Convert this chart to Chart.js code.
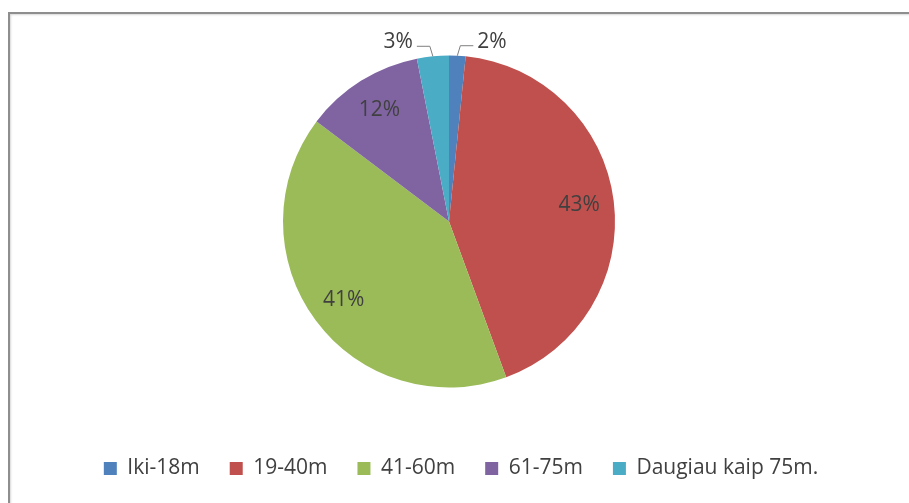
<!DOCTYPE html>
<html>
<head>
<meta charset="utf-8">
<script src="https://cdn.jsdelivr.net/npm/chart.js@4.4.0/dist/chart.umd.min.js"></script>
<style>
    html, body { margin: 0; padding: 0; background: #fff; }
    #frame {
        position: absolute; left: 8px; top: 12px; width: 920px; height: 510px;
        border-left: 2px solid #8e8e8e; border-top: 2px solid #8e8e8e;
        box-shadow: inset 1px 1px 2px #d8d8d8;
    }
    #wrap { position: absolute; left: 0; top: 0; width: 909px; height: 503px; }
</style>
</head>
<body>
<div id="frame"></div>
<div id="wrap"><canvas id="ageChart"></canvas></div>
<script>
// age groups and their share of respondents
const ageGroups = ['Iki-18m', '19-40m', '41-60m', '61-75m', 'Daugiau kaip 75m.'];
const shares = [1.6, 42.8, 40.9, 11.6, 3.1];
const sliceColors = ['#4f81bd', '#c0504d', '#9bbb59', '#8064a2', '#4bacc6'];

const textColor = '#404040';
const fontFamily = '"Open Sans", sans-serif';

// percentage labels: inside for big slices, outside with a leader line for small ones
const pieLabels = {
    id: 'pieLabels',
    afterDatasetsDraw(chart) {
        const ctx = chart.ctx;
        const meta = chart.getDatasetMeta(0);
        const total = shares.reduce((a, b) => a + b, 0);
        ctx.save();
        ctx.font = '21px ' + fontFamily;
        ctx.fillStyle = textColor;
        ctx.textBaseline = 'middle';
        meta.data.forEach((arc, i) => {
            const p = arc.getProps(['x', 'y', 'startAngle', 'endAngle', 'outerRadius'], true);
            const mid = (p.startAngle + p.endAngle) / 2;
            const pct = Math.round(shares[i] / total * 100) + '%';
            if (shares[i] / total > 0.05) {
                const r = p.outerRadius * 0.79;
                ctx.textAlign = 'center';
                ctx.fillText(pct, p.x + Math.cos(mid) * r, p.y + Math.sin(mid) * r);
                return;
            }
            const side = Math.cos(mid) < 0 ? -1 : 1;
            const ex = p.x + Math.cos(mid) * p.outerRadius;
            const ey = p.y + Math.sin(mid) * p.outerRadius;
            const bx = ex + side * 3, by = ey - 10;
            const hx = bx + side * 13;
            ctx.strokeStyle = '#7f7f7f';
            ctx.lineWidth = 1;
            ctx.beginPath();
            ctx.moveTo(ex, ey);
            ctx.lineTo(bx, by);
            ctx.lineTo(hx, by);
            ctx.stroke();
            ctx.textAlign = side < 0 ? 'right' : 'left';
            ctx.fillText(pct, hx + side * 4, by - 4);
        });
        ctx.restore();
    }
};

// legend row sits a little right of the pie's centre line
const legendShift = {
    id: 'legendShift',
    afterLayout(chart) {
        chart.legend.left += 12;
        chart.legend.right += 12;
    }
};

new Chart(document.getElementById('ageChart'), {
    type: 'pie',
    data: {
        labels: ageGroups,
        datasets: [{
            data: shares,
            backgroundColor: sliceColors,
            borderWidth: 0,
            radius: 166
        }]
    },
    options: {
        responsive: true,
        maintainAspectRatio: false,
        animation: false,
        layout: { padding: { top: 15, bottom: 14, left: 0, right: 11 } },
        plugins: {
            tooltip: { enabled: false },
            legend: {
                position: 'bottom',
                labels: {
                    boxWidth: 13,
                    boxHeight: 13,
                    padding: 30,
                    color: textColor,
                    font: { family: fontFamily, size: 21 }
                }
            }
        }
    },
    plugins: [pieLabels, legendShift]
});
</script>
</body>
</html>
